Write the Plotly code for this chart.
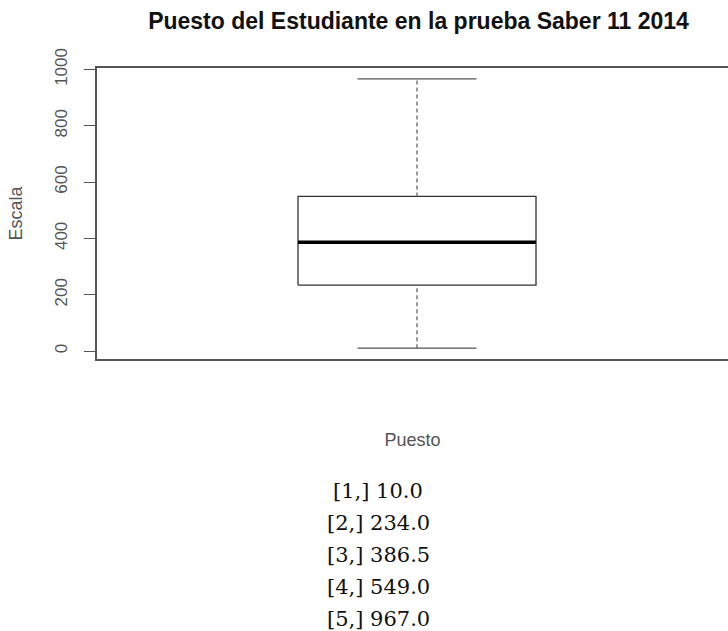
import plotly.graph_objects as go

# five-number summary of "Puesto" (as printed under the chart)
stat_labels = ["[1,]", "[2,]", "[3,]", "[4,]", "[5,]"]
stat_values = [10.0, 234.0, 386.5, 549.0, 967.0]
y_ticks = [0, 200, 400, 600, 800, 1000]

lo, q1, med, q3, hi = stat_values

# box sits at x = 1, R style: box half width 0.4, staple half width 0.2
cx = 1.0
bw = 0.4
sw = 0.2

fig = go.Figure()

# box outline
fig.add_trace(go.Scatter(
    x=[cx - bw, cx + bw, cx + bw, cx - bw, cx - bw],
    y=[q1, q1, q3, q3, q1],
    mode="lines", line=dict(color="#333333", width=1.3),
    hoverinfo="skip", showlegend=False))

# median (thick)
fig.add_trace(go.Scatter(
    x=[cx - bw, cx + bw], y=[med, med],
    mode="lines", line=dict(color="#000000", width=3.5),
    hoverinfo="skip", showlegend=False))

# whiskers (dashed)
for a, b in [(lo, q1), (q3, hi)]:
    fig.add_trace(go.Scatter(
        x=[cx, cx], y=[a, b],
        mode="lines", line=dict(color="#666666", width=1.3, dash="4px,3px"),
        hoverinfo="skip", showlegend=False))

# staples
for v in [lo, hi]:
    fig.add_trace(go.Scatter(
        x=[cx - sw, cx + sw], y=[v, v],
        mode="lines", line=dict(color="#555555", width=1.3),
        hoverinfo="skip", showlegend=False))

# R default axis range: data range extended by 4%
pad = (hi - lo) * 0.04

W, H = 728, 631
plot_left, plot_top, plot_bottom = 97, 68, 359
plot_h = plot_bottom - plot_top
plot_w = W - plot_left

# printed summary lines under the chart
for i, (lab, val) in enumerate(zip(stat_labels, stat_values)):
    ypix = 491 + 32 * i
    fig.add_annotation(
        text=f"{lab} {val:.1f}", xref="paper", yref="paper",
        x=(378 - plot_left) / plot_w, y=(plot_bottom - ypix) / plot_h,
        xanchor="center", yanchor="middle", showarrow=False,
        font=dict(family="DejaVu Serif, Liberation Serif, serif", size=21, color="#111111"))

fig.update_layout(
    width=W, height=H,
    margin=dict(l=plot_left, r=0, t=plot_top, b=H - plot_bottom),
    paper_bgcolor="white", plot_bgcolor="white",
    font=dict(family="Liberation Sans, Arial, sans-serif", size=18, color="#555555"),
    title=dict(text="<b>Puesto del Estudiante en la prueba Saber 11 2014</b>",
               x=418.5 / W, xanchor="center", y=1 - 21 / H, yanchor="middle",
               font=dict(size=23, color="#111111")),
    xaxis=dict(range=[1 - 320 / 297.5, 1 + 311 / 297.5], showgrid=False, zeroline=False,
               showticklabels=False, ticks="", showline=True, mirror=True,
               linecolor="#555555", linewidth=1.5, automargin=False,
               title=dict(text="Puesto", standoff=74, font=dict(size=18, color="#555555"))),
    yaxis=dict(range=[lo - pad, hi + pad], tickvals=y_ticks, showgrid=False, zeroline=False,
               ticks="outside", ticklen=11, tickcolor="#555555", tickwidth=1.3,
               showline=True, mirror=False, linecolor="#555555", linewidth=1.5,
               tickangle=-90, ticklabelstandoff=10, automargin=False,
               tickfont=dict(size=17, color="#555555"),
               title=dict(text="Escala", standoff=25, font=dict(size=18, color="#555555"))),
)

# drop the default page margin so the 728x631 figure fills the window exactly
fig.write_html("out.html", config={"displayModeBar": False},
               post_script="document.body.style.margin='0';document.body.style.overflow='hidden';")
